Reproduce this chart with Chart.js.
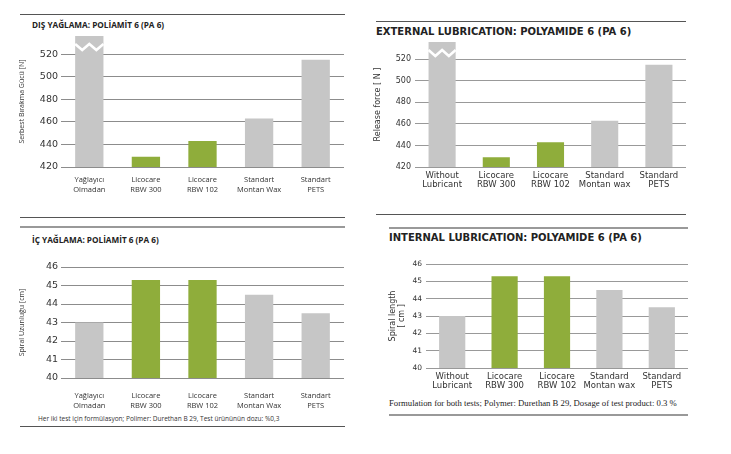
<!DOCTYPE html>
<html lang="en">
<head>
<meta charset="UTF-8">
<title>Lubrication tests: Polyamide 6</title>
<style>
  body { margin:0; width:731px; height:454px; background:#fff; position:relative; overflow:hidden; font-family:"Open Sans", sans-serif; color:#222; }
  .rule { position:absolute; height:0; border-top:1.5px solid #555; }
  .rule.light { border-top:2px solid #999; }
  .title { position:absolute; font-weight:bold; white-space:nowrap; line-height:1; color:#222; }
  .note { position:absolute; white-space:nowrap; line-height:1; color:#333; }
  canvas { position:absolute; }
</style>
</head>
<body>
<!-- left column (Turkish) -->
<div class="rule" style="left:20px; top:14px; width:325px;"></div>
<div class="title" style="left:32px; top:21px; font-size:8.2px;">DIŞ YAĞLAMA: POLİAMİT 6 (PA 6)</div>
<canvas id="extTr" width="329" height="170" style="left:15px; top:33px;"></canvas>
<div class="rule" style="left:20px; top:217px; width:325px;"></div>
<div class="rule light" style="left:20px; top:226px; width:325px;"></div>
<div class="title" style="left:32px; top:236px; font-size:8.2px;">İÇ YAĞLAMA: POLİAMİT 6 (PA 6)</div>
<canvas id="intTr" width="329" height="150" style="left:15px; top:262px;"></canvas>
<div class="note" style="left:38px; top:416px; font-size:6.5px;">Her iki test için formülasyon; Polimer: Durethan B 29, Test ürününün dozu: %0,3</div>
<div class="rule" style="left:20px; top:426px; width:325px;"></div>

<!-- right column (English) -->
<div class="rule" style="left:376px; top:21px; width:310px;"></div>
<div class="title" style="left:376px; top:27px; font-size:10px; font-family:'DejaVu Sans', sans-serif;">EXTERNAL LUBRICATION: POLYAMIDE 6 (PA 6)</div>
<canvas id="extEn" width="316" height="162" style="left:370px; top:38px;"></canvas>
<div class="rule" style="left:376px; top:214px; width:310px;"></div>
<div class="rule light" style="left:389px; top:227px; width:299px;"></div>
<div class="title" style="left:389px; top:233px; font-size:10px; font-family:'DejaVu Sans', sans-serif;">INTERNAL LUBRICATION: POLYAMIDE 6 (PA 6)</div>
<canvas id="intEn" width="303" height="137" style="left:385px; top:258px;"></canvas>
<div class="note" style="left:389px; top:399px; font-size:8.7px; font-family:'Liberation Serif', serif; color:#222;">Formulation for both tests; Polymer: Durethan B 29, Dosage of test product: 0.3 %</div>
<div class="rule light" style="left:389px; top:414px; width:299px;"></div>

<script src="https://cdn.jsdelivr.net/npm/chart.js"></script>
<script>
// categories
const categoriesTr = [['Yağlayıcı', 'Olmadan'], ['Licocare', 'RBW 300'], ['Licocare', 'RBW 102'], ['Standart', 'Montan Wax'], ['Standart', 'PETS']];
const categoriesEn = [['Without', 'Lubricant'], ['Licocare', 'RBW 300'], ['Licocare', 'RBW 102'], ['Standard', 'Montan wax'], ['Standard', 'PETS']];

// release force [N] - first bar runs off the top of the scale (break mark)
const releaseForce = [560, 429, 443, 463, 515];
const forceTicks = [420, 440, 460, 480, 500, 520];
const forceMin = 420;
const forceMax = 536;

// spiral length [cm]
const spiralLength = [43.0, 45.3, 45.3, 44.5, 43.5];
const lengthTicks = [40, 41, 42, 43, 44, 45, 46];
const lengthMin = 40;
const lengthMax = 46;

const GREEN = '#8fad3b';
const GREY = '#c6c6c6';

// white zigzag across the top of the first (cut off) bar
const breakMark = {
    id: 'breakMark',
    afterDatasetsDraw(chart, args, opts) {
        if (!opts.show) return;
        const bar = chart.getDatasetMeta(0).data[0];
        const top = chart.chartArea.top;
        const left = bar.x - bar.width / 2;
        const w = bar.width;
        const ctx = chart.ctx;
        ctx.save();
        ctx.strokeStyle = '#fff';
        ctx.lineWidth = 2.5;
        ctx.beginPath();
        for (let k = 0; k <= 4; k++) {
            const px = left + w * k / 4;
            const py = top + (k % 2 ? 14 : 8);
            if (k === 0) ctx.moveTo(px, py); else ctx.lineTo(px, py);
        }
        ctx.stroke();
        ctx.restore();
    }
};

function makeChart(id, labels, values, o) {
    const ctx = document.getElementById(id).getContext('2d');
    return new Chart(ctx, {
        type: 'bar',
        data: {
            labels: labels,
            datasets: [{
                data: values,
                backgroundColor: labels.map(l => l[0] === 'Licocare' ? GREEN : GREY),
                barPercentage: 1,
                categoryPercentage: 0.5,
                clip: 0
            }]
        },
        plugins: [breakMark],
        options: {
            responsive: false,
            animation: false,
            layout: { autoPadding: false, padding: { top: o.padTop, right: 0, bottom: 0, left: 0 } },
            plugins: {
                legend: { display: false },
                tooltip: { enabled: false },
                breakMark: { show: !!o.breakFirst }
            },
            scales: {
                x: {
                    grid: { display: false, drawTicks: false },
                    border: { display: false },
                    ticks: {
                        color: '#333',
                        padding: o.catPad,
                        maxRotation: 0,
                        autoSkip: false,
                        font: { family: o.catFamily, size: o.catSize, lineHeight: o.catLine }
                    },
                    afterFit: s => {
                        s.height = o.xHeight;
                        s.paddingLeft = 0;
                        s.paddingRight = 0;
                    }
                },
                y: {
                    min: o.min,
                    max: o.max,
                    border: { display: false },
                    grid: { color: o.gridColor, lineWidth: 1, drawTicks: false },
                    ticks: {
                        color: '#333',
                        padding: o.tickPad,
                        font: { family: o.tickFamily, size: o.tickSize }
                    },
                    afterBuildTicks: s => { s.ticks = o.ticks.map(v => ({ value: v })); },
                    title: {
                        display: true,
                        text: o.yTitle,
                        color: '#333',
                        padding: { top: 3, bottom: 0 },
                        font: { family: o.titleFamily, size: o.titleSize, lineHeight: 1.2 }
                    },
                    afterFit: s => {
                        s.width = o.yWidth;
                        s.paddingTop = 0;
                        s.paddingBottom = 0;
                    }
                }
            }
        }
    });
}

makeChart('extTr', categoriesTr, releaseForce, {
    min: forceMin, max: forceMax, ticks: forceTicks, breakFirst: true,
    yTitle: 'Serbest Bırakma Gücü [N]', titleFamily: 'Open Sans', titleSize: 7,
    tickFamily: 'DejaVu Sans', tickSize: 9.5, tickPad: 3,
    catFamily: 'Open Sans', catSize: 7.5, catLine: 1.35, catPad: 8,
    gridColor: '#8c8c8c', padTop: 3, yWidth: 46, xHeight: 36
});

makeChart('intTr', categoriesTr, spiralLength, {
    min: lengthMin, max: lengthMax, ticks: lengthTicks,
    yTitle: 'Spiral Uzunluğu [cm]', titleFamily: 'Open Sans', titleSize: 7,
    tickFamily: 'DejaVu Sans', tickSize: 9.5, tickPad: 3,
    catFamily: 'Open Sans', catSize: 7.5, catLine: 1.35, catPad: 13,
    gridColor: '#8c8c8c', padTop: 5, yWidth: 46, xHeight: 34
});

makeChart('extEn', categoriesEn, releaseForce, {
    min: forceMin, max: forceMax, ticks: forceTicks, breakFirst: true,
    yTitle: 'Release force [ N ]', titleFamily: 'DejaVu Sans', titleSize: 8,
    tickFamily: 'DejaVu Sans', tickSize: 8, tickPad: 4,
    catFamily: 'DejaVu Sans', catSize: 8.5, catLine: 1.1, catPad: 4,
    gridColor: '#999', padTop: 4, yWidth: 45, xHeight: 33
});

makeChart('intEn', categoriesEn, spiralLength, {
    min: lengthMin, max: lengthMax, ticks: lengthTicks,
    yTitle: ['Spiral length', '[ cm ]'], titleFamily: 'DejaVu Sans', titleSize: 8,
    tickFamily: 'DejaVu Sans', tickSize: 7.5, tickPad: 4,
    catFamily: 'DejaVu Sans', catSize: 8.5, catLine: 1.1, catPad: 4,
    gridColor: '#999', padTop: 6, yWidth: 41, xHeight: 27
});
</script>
</body>
</html>
